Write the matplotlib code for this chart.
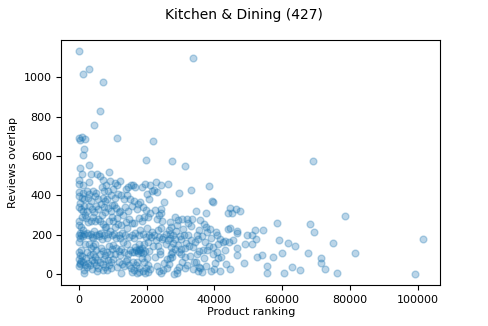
import matplotlib
matplotlib.use("Agg")
import matplotlib.pyplot as plt

# (ranking, overlap) pairs grouped in ranking bands
pts_0_2k = [(0, 1133), (1180, 1018), (0, 690), (980, 698), (1770, 686), (300, 680), (1570, 636), (1180, 605),
            (300, 538), (980, 506), (200, 475), (200, 455), (1400, 450), (0, 415), (1300, 410),
            (200, 395), (900, 385), (1500, 380), (300, 360), (1700, 345), (0, 340),
            (600, 330), (1300, 320), (1800, 300), (900, 290), (200, 270), (0, 250),
            (700, 240), (1200, 225), (300, 210), (1700, 205), (0, 200), (800, 195), (1400, 190), (500, 180),
            (200, 160), (1900, 150), (600, 120), (0, 110), (300, 95), (900, 90),
            (100, 75), (700, 65), (1200, 60), (300, 50), (1800, 45), (0, 40),
            (1500, 20), (1700, 5), (400, 55)]
pts_2k_4k = [(2950, 1040), (2950, 555), (3500, 506), (2900, 465), (2300, 420), (3100, 405), (2600, 385),
             (3600, 370), (3000, 345), (3800, 330), (2500, 320), (2100, 285),
             (3700, 270), (2700, 265), (2400, 210), (3500, 205), (2800, 195), (3900, 185),
             (3000, 150), (3600, 130), (2500, 110), (3300, 95), (2100, 80), (3800, 70),
             (2700, 55), (3400, 45), (2300, 35), (3900, 25)]
pts_4k_6k = [(4620, 755), (5500, 508), (4200, 420), (5200, 410), (4700, 395), (5600, 380),
             (5000, 345), (5800, 330), (4500, 315), (4100, 290), (5700, 280), (4800, 270),
             (4400, 220), (5900, 205), (5000, 195), (4300, 180), (4700, 150),
             (5200, 120), (4200, 100), (4900, 85), (5500, 70), (4400, 60), (5100, 45),
             (5700, 30), (5300, 15), (4100, 140)]
pts_6k_8k = [(6200, 830), (7280, 978), (6300, 500), (7300, 475), (6800, 440), (7600, 420),
             (7100, 385), (7900, 370), (6600, 355), (7400, 340), (7800, 315), (6900, 300),
             (6300, 270), (7200, 255), (7900, 240), (6700, 210), (7400, 200), (6100, 190),
             (7000, 175), (6500, 130), (7300, 115), (6200, 100), (7900, 95),
             (7500, 75), (6400, 60), (7100, 50), (7800, 35), (7200, 20)]
pts_8k_10k = [(8900, 517), (8100, 453), (9200, 470), (8500, 420), (9600, 400), (8200, 380),
              (9800, 350), (8600, 335), (9400, 320), (9900, 290), (8800, 270),
              (8100, 240), (9200, 220), (8700, 205), (9800, 195), (8400, 180), (8900, 140),
              (9700, 125), (8200, 110), (9100, 100), (8500, 70), (9400, 60), (8800, 45),
              (9600, 30), (8300, 20)]
pts_10k_12k = [(11200, 691), (10700, 462), (11200, 450), (10200, 430), (11500, 405), (10600, 385),
               (10300, 350), (11100, 335), (11900, 315), (11400, 285),
               (10100, 270), (11700, 255), (10800, 240), (10400, 205), (11900, 195),
               (10900, 180), (10200, 145), (11100, 130), (11800, 115), (10600, 100),
               (10100, 75), (11900, 60), (11300, 35)]
pts_12k_14k = [(12200, 472), (13900, 433), (12500, 400), (13400, 380), (13700, 340),
               (12300, 320), (13100, 300), (13800, 265), (12400, 250),
               (12900, 210), (13600, 195), (12100, 180), (13000, 160), (12600, 125),
               (13400, 110), (12300, 95), (13900, 65), (12700, 50), (12400, 3), (13500, 40)]
pts_14k_16k = [(14500, 440), (15500, 450), (14200, 400), (15200, 380), (15700, 345),
               (14400, 320), (14900, 280), (15800, 260), (14300, 235),
               (15600, 200), (14700, 185), (14100, 150), (15000, 120), (15700, 110),
               (14600, 100), (14200, 75), (15900, 60), (14800, 45), (15400, 30),
               (15800, 10)]
pts_16k_18k = [(16600, 441), (16100, 453), (17100, 332), (16400, 370), (17500, 355),
               (17700, 285), (16200, 260), (16700, 210), (17800, 195), (16300, 180),
               (17900, 150), (16500, 135), (17000, 120), (17600, 115), (16200, 110),
               (17400, 105), (17900, 125), (17300, 60), (16900, 45),
               (17700, 30), (16300, 20), (17200, 3), (17800, 10)]
pts_18k_20k = [(18600, 441), (19500, 455), (18900, 341), (18100, 364), (19700, 327),
               (19200, 290), (18700, 270), (18200, 225), (19100, 205), (19800, 185),
               (19300, 150), (18800, 130), (18100, 120), (19500, 115), (18400, 110),
               (19000, 105), (18600, 80), (19200, 60), (19700, 30),
               (18900, 15), (19400, 5), (19900, 577)]
pts_20k_30k = [(21900, 674), (20100, 408), (21000, 450), (20900, 310), (20400, 290), (21500, 420),
               (20700, 380), (20200, 235), (21700, 215), (20600, 200), (21200, 185),
               (20300, 160), (21800, 140), (20800, 115), (20100, 80),
               (20500, 45), (21100, 25), (20300, 10),
               (22900, 467), (22300, 428), (23000, 416), (23700, 298), (22500, 325), (23200, 280),
               (23500, 225), (22200, 200), (23800, 185), (22900, 170), (23300, 140),
               (23900, 100), (22400, 85), (23100, 40), (23800, 15),
               (24400, 453), (25200, 366), (24400, 332), (24400, 312), (24200, 231), (24500, 175),
               (25000, 189), (24000, 118), (25200, 54), (24900, 20), (24200, 3), (25600, 150),
               (24700, 270), (25800, 205), (25900, 30),
               (26300, 455), (26900, 265), (26700, 223), (26900, 202), (26800, 180), (27900, 155),
               (26800, 79), (27500, 84), (26000, 74), (26500, 49), (27500, 572), (27200, 240),
               (26400, 170), (27700, 195), (27400, 110),
               (27100, 135), (27300, 100),
               (28500, 290), (29300, 273), (29600, 411), (29200, 147), (28900, 3), (28200, 0),
               (28900, 17), (29600, 37), (28600, 220), (29800, 190), (28300, 175), (29500, 110),
               (28400, 125), (29100, 250)]
pts_30k_50k = [(30400, 280), (31800, 280), (31200, 548), (30200, 175), (31400, 130), (30200, 125),
               (31400, 88), (30500, 61), (31200, 29), (31000, 200), (30700, 230), (31600, 155),
               (30300, 100), (31900, 45),
               (33560, 1098), (33000, 428), (33500, 277), (33000, 243), (32500, 142), (33600, 135),
               (33600, 24), (32300, 195), (33200, 170), (32700, 90), (33900, 60), (32100, 260),
               (34500, 319), (35800, 273), (35500, 223), (34800, 197), (35500, 118), (34800, 99),
               (35800, 29), (35600, 37), (34200, 160), (35100, 175), (34600, 60), (35300, 15),
               (36800, 256), (37500, 239), (37800, 214), (37400, 312), (37800, 121), (36600, 121),
               (36300, 7), (37600, 42), (36500, 190), (37200, 160), (36900, 80),
               (38300, 445), (39700, 366), (39300, 371), (38600, 229), (39700, 138), (38500, 142),
               (39000, 12), (38900, 180), (39500, 100),
               (40400, 214), (40700, 200), (41700, 175), (40800, 113), (41700, 15), (40000, 24),
               (41200, 79), (41000, 150), (40200, 55),
               (43900, 307), (43900, 228), (43000, 169), (42100, 88), (43500, 49), (42500, 160), (43200, 120),
               (44600, 233), (44700, 337), (44400, 164), (44600, 24), (45600, 172), (45100, 310),
               (46400, 329), (47600, 319), (46800, 206), (46600, 94), (46800, 130), (46700, 219),
               (49500, 200), (48900, 153), (48600, 56)]
pts_50k_up = [(51000, 153), (51200, 200), (52100, 223), (52200, 175), (52600, 84), (54000, 94),
              (54300, 223), (55500, 40), (55500, 3), (57200, 86), (58400, 261), (59000, 172),
              (59900, 108), (60500, 3), (61600, 158), (62800, 34), (63700, 142), (65300, 17),
              (67600, 106), (68300, 251), (69000, 572), (69500, 211), (71500, 79), (71500, 54),
              (72600, 22), (75100, 155), (76300, 3), (78600, 295), (81500, 106), (99200, 0),
              (101500, 177)]

points = (pts_0_2k + pts_2k_4k + pts_4k_6k + pts_6k_8k + pts_8k_10k + pts_10k_12k + pts_12k_14k
          + pts_14k_16k + pts_16k_18k + pts_18k_20k + pts_20k_30k + pts_30k_50k + pts_50k_up)
ranking = [p[0] for p in points]
overlap = [p[1] for p in points]

fig = plt.figure(figsize=(4.88, 3.26), dpi=100)
ax = fig.add_axes([0.126, 0.126, 0.776, 0.751])
ax.scatter(ranking, overlap, s=24, alpha=0.3, color='C0')

ax.set_xticks([0, 20000, 40000, 60000, 80000, 100000])
ax.set_yticks([0, 200, 400, 600, 800, 1000])
ax.tick_params(labelsize=8)
ax.set_xlabel('Product ranking', fontsize=8, labelpad=2)
ax.set_ylabel('Reviews overlap', fontsize=8)
fig.suptitle('Kitchen & Dining (427)', fontsize=10, y=0.975)

fig.savefig('out.png', dpi=100)
